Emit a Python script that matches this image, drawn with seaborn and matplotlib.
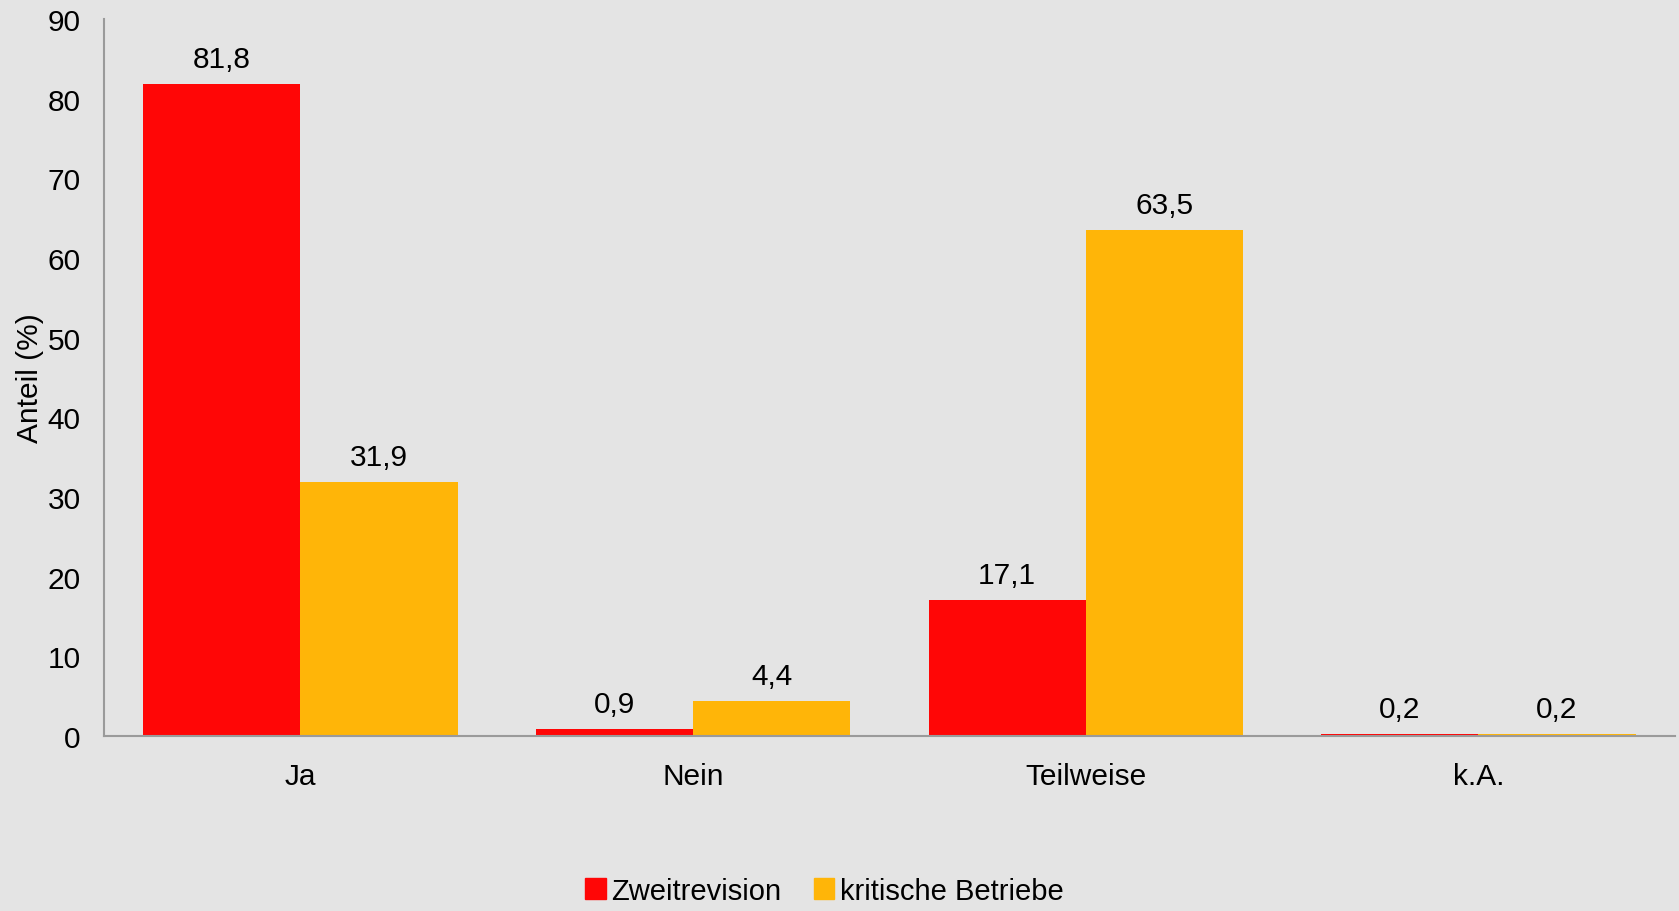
import numpy as np
import pandas as pd
import matplotlib
matplotlib.use('Agg')
import matplotlib.pyplot as plt
import seaborn as sns

categories = ['Ja', 'Nein', 'Teilweise', 'k.A.']
series_names = ['Zweitrevision', 'kritische Betriebe']
zweitrevision = [81.8, 0.9, 17.1, 0.2]
kritische = [31.9, 4.4, 63.5, 0.2]
colors = ['#ff0606', '#ffb508']

df = pd.DataFrame({
    'Kategorie': categories * 2,
    'Serie': [series_names[0]] * 4 + [series_names[1]] * 4,
    'Wert': zweitrevision + kritische,
})

sns.set_style('white')
plt.rcParams['font.family'] = ['Liberation Sans', 'DejaVu Sans']
plt.rcParams['text.color'] = 'black'
plt.rcParams['axes.labelcolor'] = 'black'
plt.rcParams['xtick.color'] = 'black'
plt.rcParams['ytick.color'] = 'black'

fs = 21.5
bg = '#e4e4e4'
fig = plt.figure(figsize=(16.79, 9.12), dpi=100, facecolor=bg)
ax = fig.add_axes([0.062, 0.192, 0.9355, 0.786])
ax.set_facecolor(bg)

sns.barplot(data=df, x='Kategorie', y='Wert', hue='Serie', order=categories,
            hue_order=series_names, palette=colors, width=0.8, saturation=1,
            ax=ax, errorbar=None, linewidth=0)

for cont in ax.containers:
    labels = ['{:.1f}'.format(b.get_height()).replace('.', ',') for b in cont]
    ax.bar_label(cont, labels=labels, padding=8, fontsize=fs, color='black')

ax.set_xlim(-0.5, 3.5)
ax.set_ylim(0, 90)
ax.set_yticks(range(0, 91, 10))
ax.set_xlabel('')
ax.set_ylabel('Anteil (%)', fontsize=fs)
ax.yaxis.set_label_coords(-0.038, 0.5)
ax.tick_params(axis='both', length=0, labelsize=fs)
ax.tick_params(axis='x', pad=19)
ax.tick_params(axis='y', pad=17)

for s in ['top', 'right']:
    ax.spines[s].set_visible(False)
for s in ['left', 'bottom']:
    ax.spines[s].set_color('#9a9a9a')
    ax.spines[s].set_linewidth(1.5)

ax.legend_.remove()
handles = [plt.Rectangle((0, 0), 1, 1, color=c) for c in colors]
fig.legend(handles, series_names, loc='lower center', bbox_to_anchor=(0.491, -0.022),
           ncol=2, frameon=False, fontsize=21, handlelength=0.7, handleheight=0.7,
           handletextpad=0.2, columnspacing=1.1)

fig.savefig('out.png', dpi=100, facecolor=bg)
